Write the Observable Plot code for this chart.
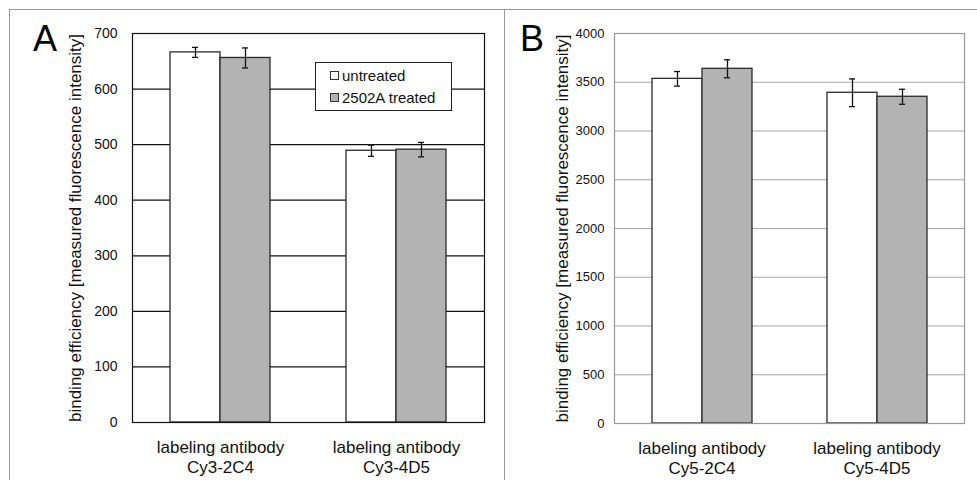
<!DOCTYPE html>
<html><head><meta charset="utf-8">
<script src="https://cdn.jsdelivr.net/npm/d3@7"></script>
<script src="https://cdn.jsdelivr.net/npm/@observablehq/plot@0.6"></script>
<style>
body{margin:0;background:#fff;font-family:"Liberation Sans",Arial,Helvetica,sans-serif;}
#wrap{position:relative;width:977px;height:480px;overflow:hidden;background:#fff;}
.chart{position:absolute;top:0;}
.line{position:absolute;background:#9a9a9a;}
.letter{position:absolute;font-size:36px;line-height:36px;color:#000;}
#legend{position:absolute;left:315px;top:62px;width:135px;height:45px;border:1px solid #222;background:#fff;padding-top:2px;box-sizing:content-box;}
.lrow{height:22px;line-height:22px;font-size:15px;color:#111;white-space:nowrap;padding-left:14px;}
.sw{display:inline-block;width:7px;height:7px;border:1px solid #333;margin-right:3px;vertical-align:1px;}
</style>
</head><body>
<div id="wrap">
  <div id="chartA" class="chart" style="left:0px"></div>
  <div id="chartB" class="chart" style="left:487px"></div>
  <div class="line" style="left:9px;top:9px;width:968px;height:1px"></div>
  <div class="line" style="left:9px;top:9px;width:1px;height:471px"></div>
  <div class="line" style="left:504px;top:9px;width:1px;height:471px"></div>
  <div class="letter" style="left:33px;top:21px">A</div>
  <div class="letter" style="left:520px;top:21px">B</div>
  <div id="legend"></div>
</div>
<script>
// ---- data ----
const series = ["untreated", "2502A treated"];
const seriesColors = ["#ffffff", "#b3b3b3"];

const categoriesA = ["labeling antibody\nCy3-2C4", "labeling antibody\nCy3-4D5"];
const untreatedA = [666, 489];
const untreatedErrA = [9, 10];
const treatedA = [656, 491];
const treatedErrA = [18, 13];
const ticksA = [0, 100, 200, 300, 400, 500, 600, 700];

const categoriesB = ["labeling antibody\nCy5-2C4", "labeling antibody\nCy5-4D5"];
const untreatedB = [3535, 3392];
const untreatedErrB = [75, 142];
const treatedB = [3638, 3351];
const treatedErrB = [92, 77];
const ticksB = [0, 500, 1000, 1500, 2000, 2500, 3000, 3500, 4000];

const yLabel = "binding efficiency [measured fluorescence intensity]";

function rows(cats, u, ue, t, te) {
  const out = [];
  cats.forEach((c, i) => {
    out.push({cat: c, series: series[0], value: u[i], err: ue[i]});
    out.push({cat: c, series: series[1], value: t[i], err: te[i]});
  });
  return out;
}

function chart(opts) {
  const {data, cats, ticks, width, marginLeft, marginRight, marginBottom,
         gridColor, frameColor, tickFont, tickPad, labelOffset} = opts;
  const ymax = ticks[ticks.length - 1];
  return Plot.plot({
    width, height: 480,
    marginLeft, marginRight, marginTop: 33, marginBottom,
    style: {background: "transparent", fontFamily: '"Liberation Sans", Arial, sans-serif', color: "#111", overflow: "visible"},
    fx: {domain: cats, paddingInner: 0, paddingOuter: 0, label: null},
    x: {domain: series, paddingInner: 0, paddingOuter: 0.75, axis: null, label: null},
    y: {domain: [0, ymax], label: null},
    color: {domain: series, range: seriesColors},
    marks: [
      Plot.ruleY(ticks, {stroke: gridColor, strokeWidth: 1.2}),
      Plot.barY(data, {fx: "cat", x: "series", y: "value", fill: "series", stroke: "#2a2a2a", strokeWidth: 1.3}),
      Plot.ruleX(data, {fx: "cat", x: "series", y1: d => d.value - d.err, y2: d => d.value + d.err, stroke: "#111", strokeWidth: 1.3}),
      Plot.tickY(data, {fx: "cat", x: "series", y: d => d.value + d.err, insetLeft: 22, insetRight: 22, stroke: "#111", strokeWidth: 1.3}),
      Plot.tickY(data, {fx: "cat", x: "series", y: d => d.value - d.err, insetLeft: 22, insetRight: 22, stroke: "#111", strokeWidth: 1.3}),
      Plot.frame({facet: "super", stroke: frameColor, strokeWidth: 1.2}),
      Plot.axisY({ticks, tickSize: 0, tickPadding: tickPad, fontSize: tickFont, tickFormat: d => String(d), label: null, labelArrow: "none"}),
      Plot.axisY({ticks: [], label: yLabel, labelAnchor: "center", labelArrow: "none", labelOffset, fontSize: 17}),
      Plot.axisFx({anchor: "bottom", tickSize: 0, tickPadding: 16, fontSize: 17, lineHeight: 1.18, label: null})
    ]
  });
}

document.getElementById("chartA").append(chart({
  data: rows(categoriesA, untreatedA, untreatedErrA, treatedA, treatedErrA),
  cats: categoriesA, ticks: ticksA, width: 500, marginLeft: 131, marginRight: 16, marginBottom: 58,
  gridColor: "#111", frameColor: "#111", tickFont: 14, tickPad: 15, labelOffset: 64
}));
document.getElementById("chartB").append(chart({
  data: rows(categoriesB, untreatedB, untreatedErrB, treatedB, treatedErrB),
  cats: categoriesB, ticks: ticksB, width: 490, marginLeft: 127, marginRight: 13, marginBottom: 57,
  gridColor: "#a8a8a8", frameColor: "#999", tickFont: 13, tickPad: 10, labelOffset: 59
}));

const legend = document.getElementById("legend");
series.forEach((s, i) => {
  const r = document.createElement("div");
  r.className = "lrow";
  const sw = document.createElement("span");
  sw.className = "sw";
  sw.style.background = seriesColors[i];
  r.append(sw, document.createTextNode(s));
  legend.append(r);
});
</script>
</body></html>
